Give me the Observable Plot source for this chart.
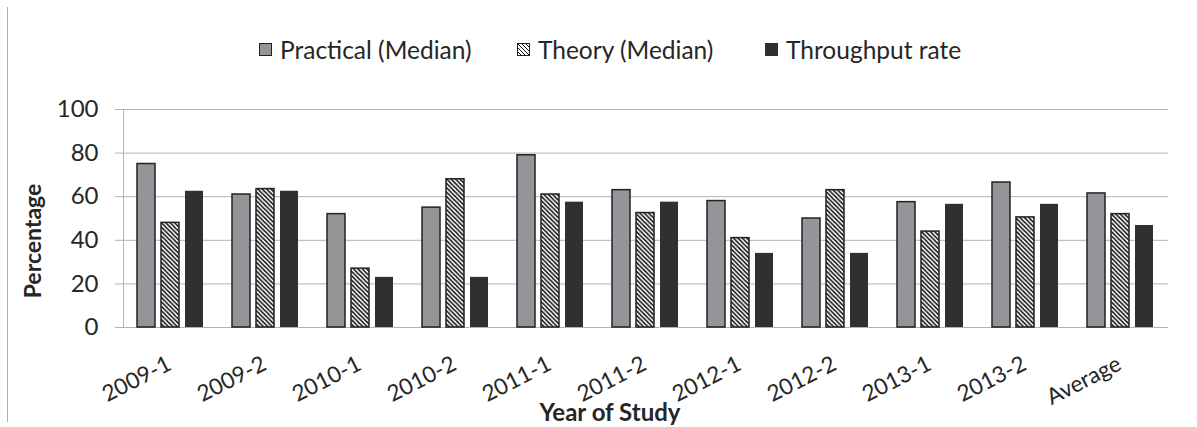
<!DOCTYPE html>
<html>
<head>
<meta charset="utf-8">
<script src="https://cdn.jsdelivr.net/npm/d3@7"></script>
<script src="https://cdn.jsdelivr.net/npm/@observablehq/plot@0.6"></script>
<style>
  html, body { margin: 0; padding: 0; background: #fff; }
  #wrap { position: relative; width: 1197px; height: 427px; overflow: hidden; font-family: Lato, "Open Sans", sans-serif; color: #262626; }
  #border { position: absolute; left: 7px; top: 7px; width: 1px; height: 415px; background: #b0b0b0; }
  #legend { position: absolute; left: 0; top: 34px; width: 1197px; height: 30px; font-size: 24.5px; white-space: nowrap; }
  .item { position: absolute; top: 0; display: flex; align-items: center; height: 30px; }
  .sw { width: 11px; height: 11px; border: 1.5px solid #222; margin-right: 8px; box-sizing: content-box; }
  #chart { position: absolute; left: 0; top: 80px; }
  #ylab { position: absolute; left: 32px; top: 241px; transform: translate(-50%, -50%) rotate(-90deg); font-weight: bold; font-size: 23px; white-space: nowrap; }
  #xlab { position: absolute; left: 610px; top: 397px; transform: translateX(-50%); font-weight: bold; font-size: 24px; white-space: nowrap; }
</style>
</head>
<body>
<div id="wrap">
  <div id="border"></div>
  <div id="legend"></div>
  <div id="chart"></div>
  <div id="ylab">Percentage</div>
  <div id="xlab">Year of Study</div>
</div>
<script>
const categories = ["2009-1", "2009-2", "2010-1", "2010-2", "2011-1", "2011-2", "2012-1", "2012-2", "2013-1", "2013-2", "Average"];
const seriesNames = ["Practical (Median)", "Theory (Median)", "Throughput rate"];
const practical = [75, 61, 52, 55, 79, 63, 58, 50, 57.5, 66.5, 61.5];
const theory = [48, 63.5, 27, 68, 61, 52.5, 41, 63, 44, 50.5, 52];
const throughput = [62.5, 62.5, 23, 23, 57.5, 57.5, 34, 34, 56.5, 56.5, 46.8];
const yTicks = [0, 20, 40, 60, 80, 100];
const seriesFills = ["#939598", "url(#hatch)", "#303030"];

const rows = [];
const seriesValues = [practical, theory, throughput];
categories.forEach((c, i) => {
  seriesNames.forEach((s, j) => rows.push({category: c, series: s, value: seriesValues[j][i]}));
});

const plot = Plot.plot({
  width: 1197,
  height: 347,
  marginTop: 29,
  marginBottom: 100,
  marginLeft: 122,
  marginRight: 28,
  style: {fontFamily: "Lato, 'Open Sans', sans-serif", fontSize: "24px", color: "#262626", background: "transparent", overflow: "visible"},
  fx: {domain: categories, padding: 0, label: null, axis: null},
  x: {domain: seriesNames, paddingInner: 0.245, paddingOuter: 0.58, axis: null},
  y: {domain: [0, 100], label: null, axis: null},
  color: {domain: seriesNames, range: seriesFills},
  marks: [
    Plot.gridY(yTicks, {stroke: "#b3b3b3", strokeOpacity: 1, strokeWidth: 1}),
    Plot.frame({anchor: "left", facetAnchor: "left", stroke: "#b3b3b3", strokeWidth: 1}),
    Plot.barY(rows, {
      fx: "category", x: "series", y: "value", fill: "series",
      stroke: d => d.series === "Throughput rate" ? "none" : "#222222",
      strokeWidth: 1.5
    }),
    Plot.axisY(yTicks, {tickSize: 8, tickPadding: 17, stroke: "#b3b3b3", fontSize: 24, fill: "#262626", label: null}),
    Plot.text(categories, {
      fx: d => d, text: d => d, frameAnchor: "bottom",
      rotate: -27, textAnchor: "end", lineAnchor: "middle",
      dx: -1.5, dy: 35, fontSize: 22.5, fill: "#262626"
    })
  ]
});

const svg = d3.select(plot);
const defs = svg.insert("defs", ":first-child");
const pat = defs.append("pattern")
  .attr("id", "hatch").attr("patternUnits", "userSpaceOnUse")
  .attr("width", 4.4).attr("height", 4.4);
pat.append("rect").attr("width", 4.4).attr("height", 4.4).attr("fill", "#ffffff");
pat.append("path").attr("d", "M0,0 L4.4,4.4 M-1,3.4 L1,5.4 M3.4,-1 L5.4,1")
  .attr("stroke", "#111").attr("stroke-width", 1.5);

document.getElementById("chart").appendChild(plot);

// legend
const legendLefts = [259, 517, 765];
const legend = d3.select("#legend");
seriesNames.forEach((s, j) => {
  const item = legend.append("div").attr("class", "item").style("left", legendLefts[j] + "px");
  const sw = item.append("div").attr("class", "sw");
  if (j === 1) {
    sw.style("background", "repeating-linear-gradient(45deg, #fff 0px, #fff 1.6px, #111 1.6px, #111 2.8px)");
  } else {
    sw.style("background", seriesFills[j]);
    if (j === 2) sw.style("border-color", "#303030");
  }
  item.append("span").text(s);
});
</script>
</body>
</html>
